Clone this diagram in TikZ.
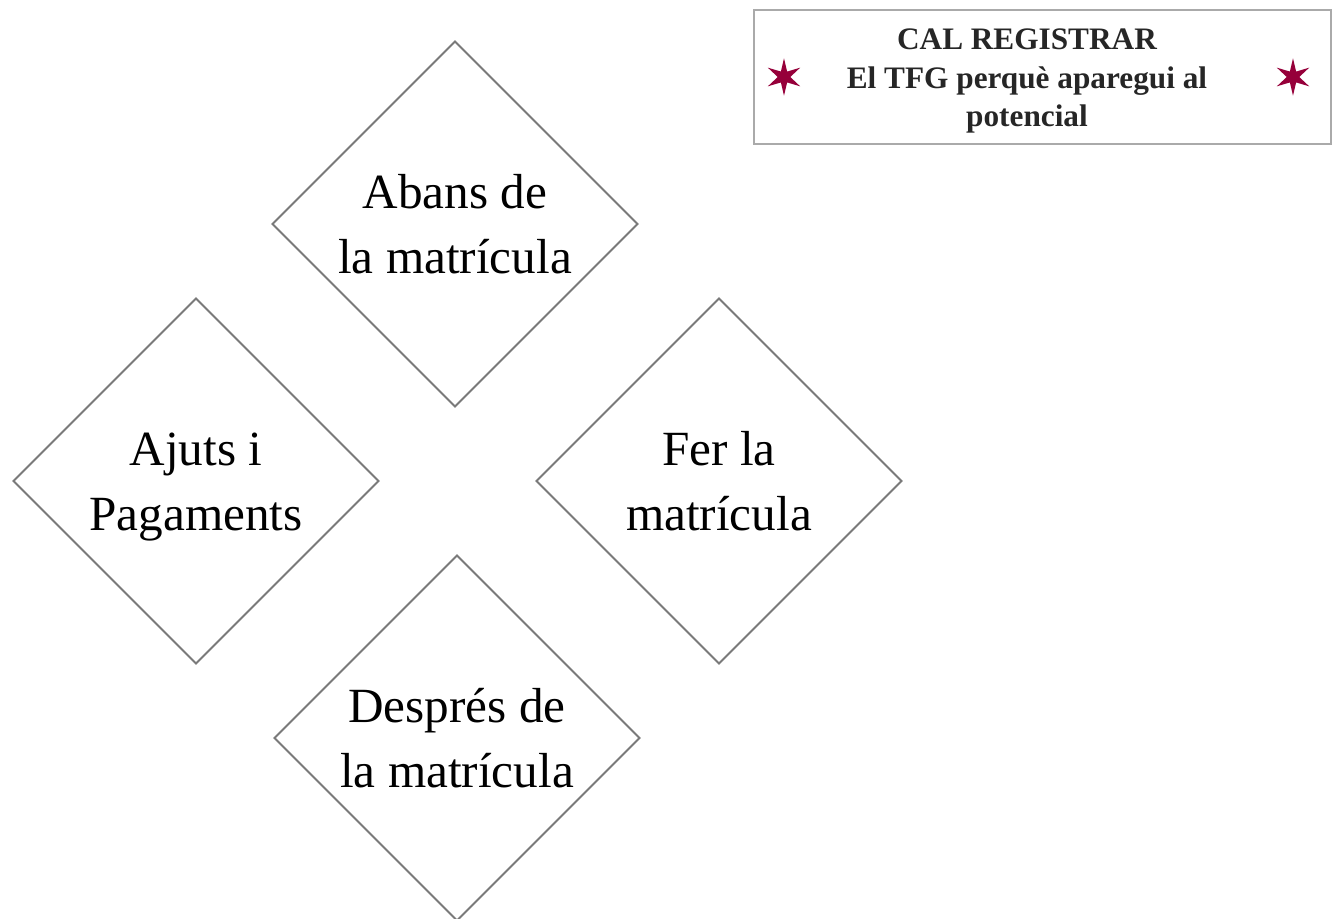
\documentclass[tikz,border=0pt]{standalone}
\usepackage{fontspec}
\setmainfont{Liberation Serif}
\usetikzlibrary{shapes.geometric}
\definecolor{stageline}{RGB}{122,122,122}
\definecolor{noteline}{RGB}{170,170,170}
\definecolor{notestar}{RGB}{150,0,58}
\tikzset{
  stagebox/.style={
    diamond,
    aspect=1,
    draw=stageline,
    line width=1.1pt,
    inner sep=0pt,
    minimum width=7.32cm,
    minimum height=7.32cm
  },
  stagetext/.style={
    align=center,
    inner sep=0pt,
    font=\fontsize{28}{37}\selectfont,
    execute at begin node=\strut,
    execute at end node=\strut
  },
  notebox/.style={
    draw=noteline,
    line width=1.4pt
  },
  notestarmark/.style={
    star,
    star points=6,
    star point ratio=3.0,
    fill=notestar,
    inner sep=0pt,
    minimum size=0.75cm
  }
}
\begin{document}
\begin{tikzpicture}[x=0.02cm,y=-0.02cm]

  \useasboundingbox (0,0) rectangle (1332,919);

  % The four stages of the enrolment, one diamond each.
  \node[stagebox] (abans)   at (455,224) {};
  \node[stagebox] (ajuts)   at (196,481) {};
  \node[stagebox] (fer)     at (719,481) {};
  \node[stagebox] (despres) at (457,738) {};

  \node[stagetext] (abansT)   at ([yshift=-0.2cm]abans.center)   {Abans de\\la matrícula};
  \node[stagetext] (ajutsT)   at ([yshift=-0.2cm]ajuts.center)   {Ajuts i\\Pagaments};
  \node[stagetext] (ferT)     at ([yshift=-0.2cm]fer.center)     {Fer la\\matrícula};
  \node[stagetext] (despresT) at ([yshift=-0.2cm]despres.center) {Després de\\la matrícula};

  % Reminder box in the top right corner.
  \draw[notebox] (754,10) rectangle (1331,144);
  \node[align=center,font=\bfseries\fontsize{17.8}{21.8}\selectfont,
        text=black!85] (avis) at (1027,81)
    {CAL REGISTRAR\\El TFG perquè aparegui al\\potencial};
  \node[notestarmark] (starL) at (784,77) {};
  \node[notestarmark] (starR) at (1293,77) {};

\end{tikzpicture}
\end{document}
